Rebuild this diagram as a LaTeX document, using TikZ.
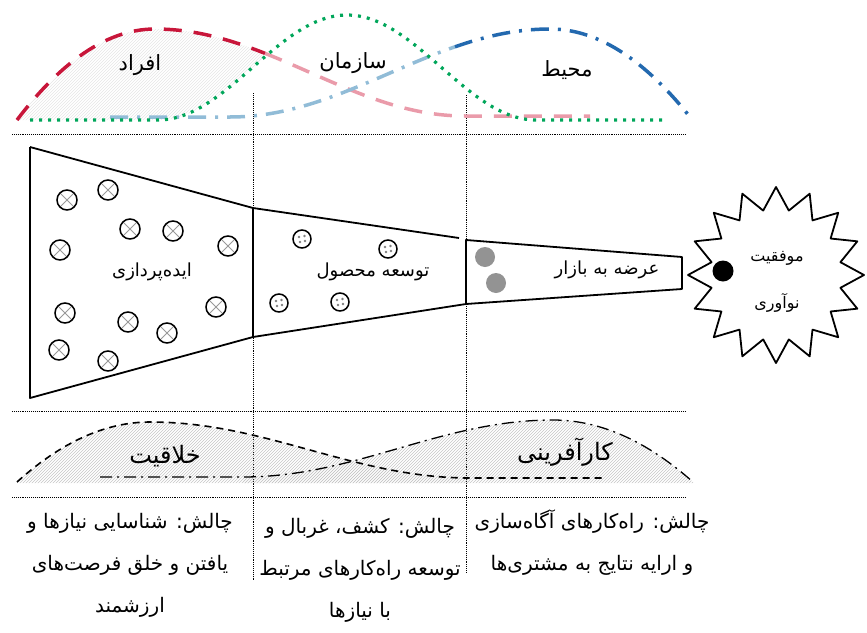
\documentclass[tikz,border=0pt]{standalone}
\usepackage{fontspec}
\usetikzlibrary{shapes.geometric}
\usetikzlibrary{patterns}
\TeXXeTstate=1
\newfontfamily\farsi[Script=Arabic]{DejaVu Sans}
\newcommand{\fatxt}[1]{\beginR #1\endR}
\definecolor{crimson}{RGB}{200,22,58}
\definecolor{blush}{RGB}{234,155,170}
\definecolor{leaf}{RGB}{0,166,90}
\definecolor{ocean}{RGB}{35,105,175}
\definecolor{sky}{RGB}{145,188,215}
\tikzset{
  guide/.style    = { line width=0.7pt, dash pattern=on 0.7pt off 1.2pt },
  outline/.style  = { line width=1.8pt, line join=round },
  hatch/.style    = { pattern=north east lines, pattern color=gray!45 },
  softhatch/.style= { pattern=north east lines, pattern color=gray!20 },
}
\tikzset{
  people/.style   = { line width=3.5pt, dash pattern=on 18pt off 12pt },
  org/.style      = { leaf, line width=3.2pt, dash pattern=on 3pt off 6pt },
  env/.style      = { line width=3.5pt, dash pattern=on 18pt off 9pt on 3pt off 9pt },
  creative/.style = { line width=1.6pt, dash pattern=on 7pt off 5pt },
  venture/.style  = { line width=1.3pt, dash pattern=on 12pt off 5pt on 2pt off 5pt },
  idea/.style     = { circle, draw, line width=1.5pt, minimum size=20pt, inner sep=0pt,
                      path picture={\draw[gray!80, line width=0.8pt]
                        (path picture bounding box.north west) -- (path picture bounding box.south east)
                        (path picture bounding box.north east) -- (path picture bounding box.south west);} },
  proto/.style    = { circle, draw, line width=1.5pt, minimum size=18pt, inner sep=0pt,
                      path picture={\fill[gray]
                        ([xshift=-3pt,yshift=2pt]path picture bounding box.center) circle (1.3pt)
                        ([xshift=2.5pt,yshift=3pt]path picture bounding box.center) circle (1.3pt)
                        ([xshift=-2pt,yshift=-3pt]path picture bounding box.center) circle (1.3pt)
                        ([xshift=3pt,yshift=-2pt]path picture bounding box.center) circle (1.3pt);} },
  ready/.style    = { circle, fill=gray!85, minimum size=20pt, inner sep=0pt },
  tag/.style      = { font=\farsi\fontsize{21}{24}\selectfont, inner sep=0pt },
  stage/.style    = { font=\farsi\fontsize{18}{21}\selectfont, inner sep=0pt },
  goal/.style     = { font=\farsi\fontsize{16}{19}\selectfont, inner sep=0pt },
  trait/.style    = { font=\farsi\fontsize{24}{28}\selectfont, inner sep=0pt },
  note/.style     = { font=\farsi\fontsize{20}{42}\selectfont, align=center, inner sep=0pt },
}

\begin{document}
\begin{tikzpicture}[x=1pt,y=-1pt]
  \useasboundingbox (0,0) rectangle (867,632);

  % grid
  \draw [guide] (12,134) -- (685,134);
  \draw [guide] (12,411) -- (685,411);
  \draw [guide] (12,497) -- (685,497);
  \draw [guide] (253,93) -- (253,580);
  \draw [guide] (466,95) -- (466,572);

  % top curves
  \fill [softhatch] (17,120)
        -- plot [domain=17:155,samples=30]  (\x,{29+91*((\x-155)/138)^2})
        -- plot [domain=155:262,samples=30] (\x,{116-87*(1+cos((\x-155)/310*180))/2})
        -- plot [domain=262:158,samples=30] (\x,{120-105*(1+cos((\x-347)/189*180))/2})
        -- cycle;
  \draw [people,blush] plot [domain=265:465,samples=50] (\x,{116-87*(1+cos((\x-155)/310*180))/2})
        -- (590,116);
  \draw [env,sky] (110,117) -- (230,117)
        -- plot [domain=230:455,samples=50] (\x,{117-88*(1+cos((\x-550)/320*180))/2});
  \draw [org] (30,120) -- (158,120)
        -- plot [domain=158:536,samples=80] (\x,{120-105*(1+cos((\x-347)/189*180))/2})
        -- (667,120);
  \draw [people,crimson] plot [domain=17:155,samples=30] (\x,{29+91*((\x-155)/138)^2})
        -- plot [domain=155:265,samples=30] (\x,{116-87*(1+cos((\x-155)/310*180))/2});
  \draw [env,ocean] plot [domain=455:550,samples=30] (\x,{117-88*(1+cos((\x-550)/320*180))/2})
        -- plot [domain=550:690,samples=40] (\x,{29+88*((\x-550)/140)^2});

  \node (people) [tag] at (140,65) {\fatxt{افراد}};
  \node (org)    [tag] at (353,63) {\fatxt{سازمان}};
  \node (env)    [tag] at (567,70) {\fatxt{محیط}};

  % funnel
  \draw [outline] (30,147) -- (253,208) -- (459,238);
  \draw [outline] (30,147) -- (30,398) -- (253,337) -- (466,304);
  \draw [outline] (253,208) -- (253,337);
  \draw [outline] (466,240) -- (682,257) -- (682,289) -- (466,304) -- cycle;

  \foreach \x/\y [count=\i] in {67/200,108/190,130/229,173/231,60/250,228/246,
                                65/313,128/322,167/333,216/307,59/350,108/361}
    \node (idea\i) [idea] at (\x,\y) {};
  \node (p1) [proto] at (302,239) {};
  \node (p2) [proto] at (388,249) {};
  \node (p3) [proto] at (279,303) {};
  \node (p4) [proto] at (340,302) {};
  \node (r1) [ready] at (485,257) {};
  \node (r2) [ready] at (496,283) {};

  \node (ideation) [stage] at (152,272) {\fatxt{ایده‌پردازی}};
  \node (develop)  [stage] at (373,272) {\fatxt{توسعه محصول}};
  \node (launch)   [stage] at (607,270) {\fatxt{عرضه به بازار}};

  % success
  \node (star) [star,star points=16,star point ratio=1.34,draw,outline,
                minimum size=176pt,inner sep=0pt] at (776,275) {};
  \node (core) [circle,fill=black,minimum size=21pt,inner sep=0pt] at (723,271) {};
  \node (succ) [goal] at (777,258) {\fatxt{موفقیت}};
  \node (innov)[goal] at (777,303) {\fatxt{نوآوری}};

  % bottom curves
  \fill [hatch] (17,483)
        -- plot [domain=17:150,samples=30]  (\x,{422+60*((\x-150)/133)^2})
        -- plot [domain=150:470,samples=50] (\x,{478-56*(1+cos((\x-150)/320*180))/2})
        -- (470,483) -- cycle;
  \fill [hatch] (243,483) -- (243,477)
        -- plot [domain=243:553,samples=50] (\x,{477-57*(1+cos((\x-553)/310*180))/2})
        -- plot [domain=553:693,samples=30] (\x,{420+62*((\x-553)/140)^2})
        -- (693,483) -- cycle;
  \draw [creative] plot [domain=17:150,samples=30] (\x,{422+60*((\x-150)/133)^2})
        -- plot [domain=150:470,samples=50] (\x,{478-56*(1+cos((\x-150)/320*180))/2})
        -- (605,478);
  \draw [venture] (100,477) -- (243,477)
        -- plot [domain=243:553,samples=50] (\x,{477-57*(1+cos((\x-553)/310*180))/2})
        -- plot [domain=553:693,samples=30] (\x,{420+62*((\x-553)/140)^2});

  \node (creat)   [trait] at (165,456) {\fatxt{خلاقیت}};
  \node (venture) [trait] at (565,452) {\fatxt{کارآفرینی}};

  % challenges
  \node (ch1) [note] at (130,565) {\fatxt{چالش: شناسایی نیازها و}\\\fatxt{یافتن و خلق فرصت‌های}\\\fatxt{ارزشمند}};
  \node (ch2) [note] at (360,570) {\fatxt{چالش: کشف، غربال و}\\\fatxt{توسعه راه‌کارهای مرتبط}\\\fatxt{با نیازها}};
  \node (ch3) [note] at (592,543) {\fatxt{چالش: راه‌کارهای آگاه‌سازی}\\\fatxt{و ارایه نتایج به مشتری‌ها}};
\end{tikzpicture}
\end{document}
